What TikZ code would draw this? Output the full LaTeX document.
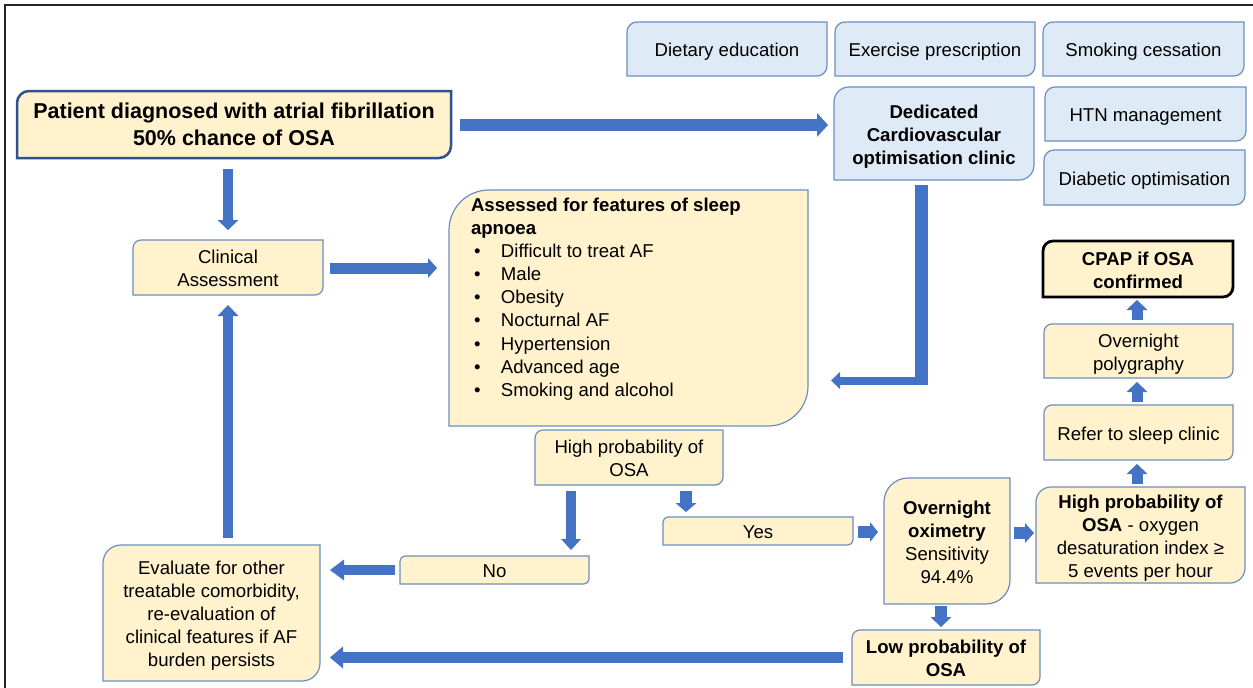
\documentclass[tikz,border=0pt]{standalone}
\usepackage{fontspec}
\setmainfont{Liberation Sans}
\usetikzlibrary{arrows.meta,backgrounds,calc}
\definecolor{ylfill}{HTML}{FFF2CC}
\definecolor{blfill}{HTML}{DEEBF7}
\definecolor{bxline}{HTML}{6C8EBF}
\definecolor{arblue}{HTML}{4472C4}
\definecolor{dkblue}{HTML}{2F528F}
\newcommand{\fsz}{\fontsize{18.6pt}{23.1pt}\selectfont}
\newcommand{\fbig}{\fontsize{21.5pt}{27pt}\selectfont\bfseries}
\newcommand{\bitem}{\makebox[30pt][l]{\hspace{3pt}\textbullet}}
\newcommand{\tstrut}{\rule{0pt}{20.3pt}}
\newcommand{\bstrut}{\rule[-5pt]{0pt}{5pt}}
\newcommand{\diagshape}[3][]{\path[#1] (#2.west) [rounded corners=#3] |- (#2.north) [sharp corners] -| (#2.east) [rounded corners=#3] |- (#2.south) [sharp corners] -| (#2.west) -- cycle;}
\tikzset{
 nd/.style 2 args={inner sep=0pt, outer sep=0pt, minimum width=#1, minimum height=#2, align=center, font=\fsz,
   execute at end node=\bstrut},
 yshape/.style={fill=ylfill, draw=bxline, line width=1.2pt},
 bshape/.style={fill=blfill, draw=bxline, line width=1.2pt},
 ar/.style n args={3}{draw=arblue, line width=#1, -{Triangle[length=#2, width=#3, line width=0pt]}},
 shaft/.style={draw=arblue, line width=#1},
 outerframe/.style={draw=black!85, line width=1.5pt}
}
\begin{document}
\begin{tikzpicture}[x=1pt,y=-1pt]
\useasboundingbox (0,0) rectangle (1253,688);
% nodes
\node[nd={434pt}{67pt}, font=\fbig] (patient) at (234,124.5) {\rule{0pt}{20.4pt}Patient diagnosed with atrial fibrillation\\50\% chance of OSA};
\node[nd={190pt}{55pt}] (clin) at (228,267.5) {\tstrut Clinical\\Assessment};
\node[nd={200pt}{54pt}] (diet) at (727,49) {\tstrut Dietary education};
\node[nd={200pt}{54pt}] (exer) at (935,49) {\tstrut Exercise prescription};
\node[nd={201pt}{54pt}] (smok) at (1143.5,49) {\tstrut Smoking cessation};
\node[nd={200pt}{93pt}, font=\fsz\bfseries] (ded) at (934,133.5) {\tstrut Dedicated\\Cardiovascular\\optimisation clinic};
\node[nd={201pt}{54pt}] (htn) at (1145.5,114) {\tstrut HTN management};
\node[nd={201pt}{55pt}] (diab) at (1144.5,177.5) {\tstrut Diabetic optimisation};
\node[nd={359pt}{236pt}, align=left, execute at end node={}] (assess) at (628.5,308) {\parbox[c][236pt][t]{315pt}{\raggedright\vspace*{8pt}\textbf{Assessed for features of sleep}\\\textbf{apnoea}\\
\bitem Difficult to treat AF\\
\bitem Male\\
\bitem Obesity\\
\bitem Nocturnal AF\\
\bitem Hypertension\\
\bitem Advanced age\\
\bitem Smoking and alcohol}};
\node[nd={188pt}{55pt}] (hp) at (629,457.5) {\tstrut High probability of\\OSA};
\node[nd={189pt}{28pt}] (no) at (494.5,570) {\tstrut No};
\node[nd={190pt}{28pt}] (yes) at (758,531) {\tstrut Yes};
\node[nd={217pt}{136pt}] (eval) at (211.5,613) {\tstrut Evaluate for other\\treatable comorbidity,\\re-evaluation of\\clinical features if AF\\burden persists};
\node[nd={126pt}{126pt}] (oxi) at (947,541) {\tstrut\textbf{Overnight}\\\textbf{oximetry}\\Sensitivity\\94.4\%};
\node[nd={209pt}{96pt}] (highr) at (1140.5,535) {\tstrut\textbf{High probability of}\\\textbf{OSA} - oxygen\\desaturation index ≥\\5 events per hour};
\node[nd={188pt}{55pt}, font=\fsz\bfseries] (low) at (946,657.5) {\tstrut Low probability of\\OSA};
\node[nd={189pt}{55pt}] (refer) at (1138.5,432.5) {\tstrut Refer to sleep clinic};
\node[nd={189pt}{54pt}] (poly) at (1138.5,351) {\tstrut Overnight\\polygraphy};
\node[nd={190pt}{56pt}, font=\fsz\bfseries] (cpap) at (1138,269) {\tstrut CPAP if OSA\\confirmed};
% shapes behind
\begin{scope}[on background layer]
\fill[white] (0,0) rectangle (1253,688);
\diagshape[yshape, draw=dkblue, line width=2.5pt]{patient}{12pt}
\diagshape[yshape]{clin}{8pt}
\diagshape[bshape]{diet}{10pt}
\diagshape[bshape]{exer}{10pt}
\diagshape[bshape]{smok}{10pt}
\diagshape[bshape]{ded}{15pt}
\diagshape[bshape]{htn}{10pt}
\diagshape[bshape]{diab}{10pt}
\diagshape[yshape]{assess}{40pt}
\diagshape[yshape]{hp}{8pt}
\diagshape[yshape]{no}{5pt}
\diagshape[yshape]{yes}{5pt}
\diagshape[yshape]{eval}{18pt}
\diagshape[yshape]{oxi}{24pt}
\diagshape[yshape]{highr}{15pt}
\diagshape[yshape]{low}{8pt}
\diagshape[yshape]{refer}{8pt}
\diagshape[yshape]{poly}{8pt}
\diagshape[yshape, draw=black, line width=2.8pt]{cpap}{10pt}
\end{scope}
% frame
\draw[outerframe] (5,688) -- (5,5) -- (1253,5);
% connectors
\draw[ar={12pt}{11pt}{24pt}] ($(patient.east)+(9,0.5)$) -- ($(ded.west |- patient.east)+(-6,0.5)$);
\draw[ar={10pt}{10pt}{21pt}] ($(clin.north |- patient.south)+(0,11)$) -- ($(clin.north)+(0,-10)$);
\draw[ar={11pt}{9pt}{20pt}] ($(clin.east)+(7,0.5)$) -- ($(assess.west |- clin.east)+(-12,0.5)$);
\coordinate (bend) at ($(ded.south)+(-13,200.5)$);
\draw[shaft=13pt] ($(ded.south)+(-13,5)$) -- ($(bend)+(0,4)$);
\draw[ar={8pt}{9pt}{17pt}] ($(bend)+(6.5,0)$) -- ($(assess.east |- bend)+(23,0)$);
\draw[ar={10pt}{11pt}{20pt}] ($(hp.south)+(-58,6)$) -- ($(no.north)+(76.5,-6)$);
\draw[ar={12pt}{9pt}{21pt}] ($(hp.south)+(57,6)$) -- ($(yes.north)+(-72,-5)$);
\draw[ar={10pt}{14pt}{21pt}] ($(no.west)+(-5,0)$) -- ($(eval.east |- no.west)+(10,0)$);
\draw[ar={10pt}{11pt}{21pt}] ($(eval.north)+(16.5,-7)$) -- ($(clin.south)+(0,10)$);
\draw[ar={12pt}{8pt}{20pt}] ($(yes.east)+(5,1)$) -- ($(oxi.west |- yes.east)+(-6,1)$);
\draw[ar={12pt}{9pt}{20pt}] ($(oxi.east)+(4,-8)$) -- ($(highr.west |- oxi.east)+(-2,-8)$);
\draw[ar={12pt}{10pt}{21pt}] ($(oxi.south)+(-6,2)$) -- ($(low.north)+(-5,-3)$);
\draw[ar={11pt}{13pt}{22pt}] ($(low.west)+(-9,0)$) -- ($(eval.east |- low.west)+(10,0)$);
\draw[ar={11pt}{10pt}{21pt}] ($(highr.north)+(-3.5,-3)$) -- ($(refer.south)+(-1.5,4)$);
\draw[ar={11pt}{10pt}{21pt}] ($(refer.north)+(-1.5,-3)$) -- ($(poly.south)+(-1.5,4)$);
\draw[ar={11pt}{10pt}{21pt}] ($(poly.north)+(-1.5,-4)$) -- ($(cpap.south)+(-1,3)$);
\end{tikzpicture}
\end{document}
